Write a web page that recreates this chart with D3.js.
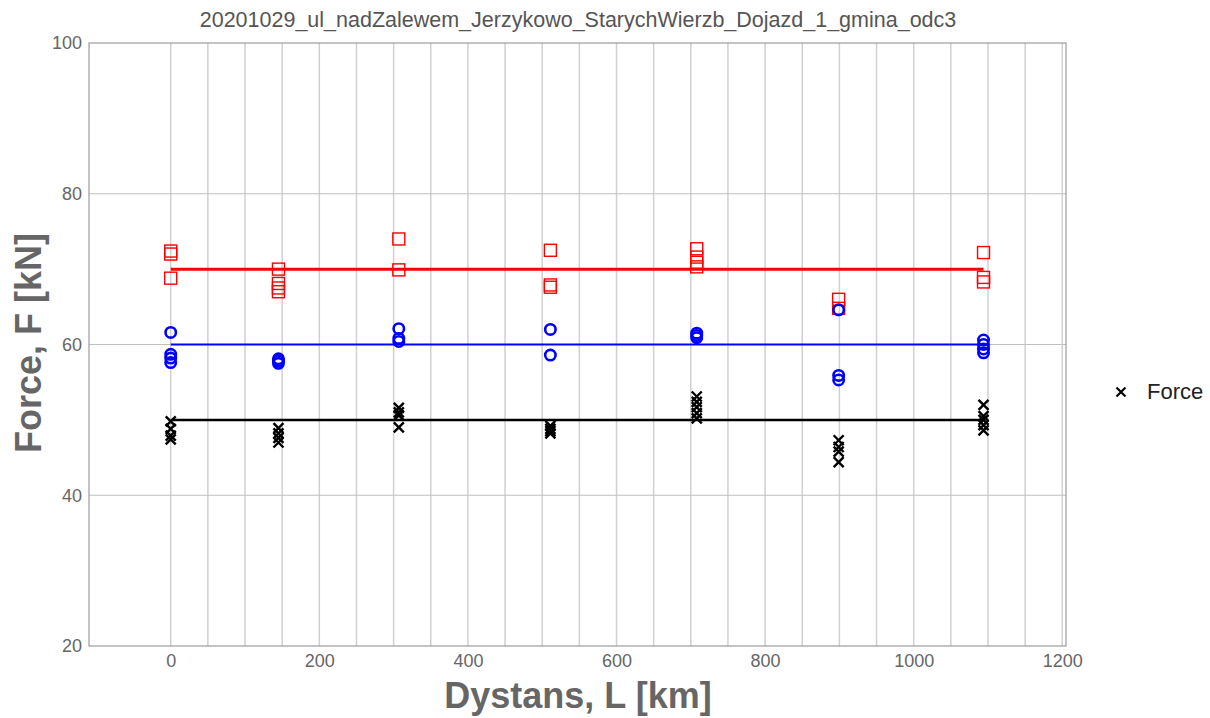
<!DOCTYPE html>
<html>
<head>
<meta charset="utf-8">
<script src="https://cdn.jsdelivr.net/npm/d3@7"></script>
<style>
  body { margin: 0; background: #fff; }
  text { font-family: "Liberation Sans", Arial, sans-serif; }
</style>
</head>
<body>
<div id="chart"></div>
<script>
// distances of the measuring points [km]
var distances = [0, 145, 307, 511, 708, 899, 1094];

// red squares
var redPoints = [
  [72.4, 72.0, 68.8],
  [70.0, 68.1, 67.5, 67.0],
  [74.0, 69.9],
  [72.5, 67.9, 67.6],
  [72.7, 71.6, 70.9, 70.3],
  [66.0, 64.8],
  [72.2, 68.9, 68.3]
];
// blue circles
var bluePoints = [
  [61.6, 58.7, 58.2, 57.6],
  [58.1, 57.8, 57.5],
  [62.1, 60.8, 60.4],
  [62.0, 58.6],
  [61.5, 61.2, 60.9],
  [64.6, 55.9, 55.3],
  [60.6, 60.0, 59.4, 58.9]
];
// black crosses
var blackPoints = [
  [49.8, 48.8, 47.9, 47.4],
  [48.9, 48.2, 47.6, 47.0],
  [51.6, 51.0, 50.6, 49.0],
  [49.2, 48.8, 48.5, 48.2],
  [53.1, 52.4, 51.7, 50.9, 50.2],
  [47.3, 46.4, 45.8, 44.4],
  [52.0, 50.5, 50.0, 49.3, 48.6]
];

var refLevels = [70, 60, 50];
var refColors = ["#ff0000", "#0000ff", "#000000"];
var refWidths = [3, 2, 2.5];

var xTicks = [0, 200, 400, 600, 800, 1000, 1200];
var xGrid = d3.range(0, 1201, 50);
var yTicks = [20, 40, 60, 80, 100];

var titleText = "20201029_ul_nadZalewem_Jerzykowo_StarychWierzb_Dojazd_1_gmina_odc3";

var width = 1210, height = 718;
var margin = {left: 89, right: 144, top: 43, bottom: 72};

var svg = d3.select("#chart").append("svg")
    .attr("width", width)
    .attr("height", height);

var x = d3.scaleLinear().domain([-110, 1205]).range([margin.left, width - margin.right]);
var y = d3.scaleLinear().domain([20, 100]).range([height - margin.bottom, margin.top]);

// grid
svg.append("g").selectAll("line").data(xGrid).enter().append("line")
    .attr("x1", function(d) { return x(d); })
    .attr("x2", function(d) { return x(d); })
    .attr("y1", y(20)).attr("y2", y(100))
    .style("stroke", "#d0d0d0").style("stroke-width", 1.5);

svg.append("g").selectAll("line").data([40, 60, 80]).enter().append("line")
    .attr("x1", x.range()[0]).attr("x2", x.range()[1])
    .attr("y1", function(d) { return y(d); })
    .attr("y2", function(d) { return y(d); })
    .style("stroke", "#c0c0c0").style("stroke-width", 1);

// frame
svg.append("rect")
    .attr("x", x.range()[0]).attr("y", y(100))
    .attr("width", x.range()[1] - x.range()[0])
    .attr("height", y(20) - y(100))
    .style("fill", "none").style("stroke", "#888").style("stroke-width", 1);

// axes (labels only)
var xAxis = svg.append("g")
    .attr("transform", "translate(0," + y(20) + ")")
    .call(d3.axisBottom(x).tickValues(xTicks).tickFormat(d3.format("d")).tickSize(0).tickPadding(8));
var yAxis = svg.append("g")
    .attr("transform", "translate(" + x.range()[0] + ",0)")
    .call(d3.axisLeft(y).tickValues(yTicks).tickFormat(d3.format("d")).tickSize(0).tickPadding(7));
[xAxis, yAxis].forEach(function(a) {
  a.select(".domain").remove();
  a.selectAll("text")
    .style("font-size", "18px")
    .style("fill", "#666")
    .style("font-family", "Liberation Sans, Arial, sans-serif");
});

// reference lines
refLevels.forEach(function(lv, i) {
  svg.append("line")
    .attr("x1", x(distances[0])).attr("x2", x(distances[distances.length - 1]))
    .attr("y1", y(lv)).attr("y2", y(lv))
    .style("stroke", refColors[i]).style("stroke-width", refWidths[i]);
});

function flatten(arr) {
  var out = [];
  arr.forEach(function(vals, i) {
    vals.forEach(function(v) { out.push({d: distances[i], v: v}); });
  });
  return out;
}

// squares
svg.append("g").selectAll("rect").data(flatten(redPoints)).enter().append("rect")
    .attr("x", function(p) { return x(p.d) - 6; })
    .attr("y", function(p) { return y(p.v) - 6; })
    .attr("width", 12).attr("height", 12)
    .style("fill", "none").style("stroke", "#ff0000").style("stroke-width", 1.4);

// circles
svg.append("g").selectAll("ellipse").data(flatten(bluePoints)).enter().append("ellipse")
    .attr("cx", function(p) { return x(p.d); })
    .attr("cy", function(p) { return y(p.v); })
    .attr("rx", 5.2).attr("ry", 5.2)
    .style("fill", "none").style("stroke", "#0000ff").style("stroke-width", 2.6);

// crosses
var cross = "M-5,-5L5,5M-5,5L5,-5";
svg.append("g").selectAll("path").data(flatten(blackPoints)).enter().append("path")
    .attr("transform", function(p) { return "translate(" + x(p.d) + "," + y(p.v) + ")"; })
    .attr("d", cross)
    .style("stroke", "#000").style("stroke-width", 2.4).style("fill", "none");

// legend
svg.append("path")
    .attr("transform", "translate(1121,392) scale(0.9)")
    .attr("d", cross)
    .style("stroke", "#000").style("stroke-width", 2.4);
svg.append("text")
    .attr("x", 1147).attr("y", 399)
    .text("Force")
    .style("font-size", "22px")
    .style("fill", "#222");

// title
svg.append("text")
    .attr("x", 578).attr("y", 27)
    .attr("text-anchor", "middle")
    .text(titleText)
    .style("font-size", "21.5px")
    .style("fill", "#555");

// axis titles
svg.append("text")
    .attr("x", 578).attr("y", 708)
    .attr("text-anchor", "middle")
    .text("Dystans, L [km]")
    .style("font-size", "36px")
    .style("font-weight", "bold")
    .style("fill", "#666");

svg.append("text")
    .attr("transform", "translate(41,343) rotate(-90)")
    .attr("text-anchor", "middle")
    .text("Force, F [kN]")
    .style("font-size", "36px")
    .style("font-weight", "bold")
    .style("fill", "#666");
</script>
</body>
</html>
